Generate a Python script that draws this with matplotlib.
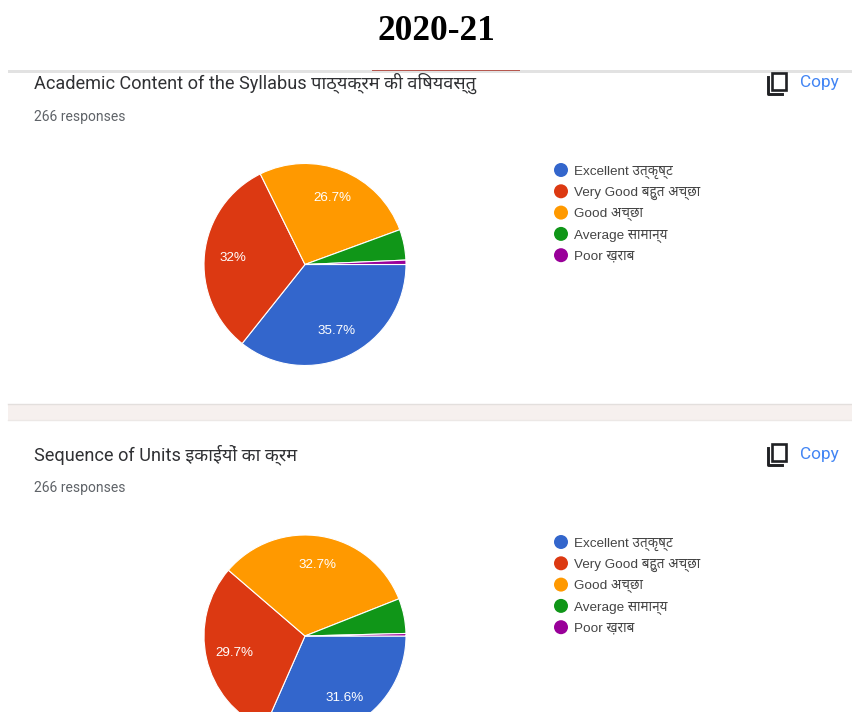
import matplotlib
matplotlib.use('Agg')
import matplotlib.pyplot as plt
from matplotlib.patches import Circle, Rectangle

W, H = 853, 712

# data
heading = '2020-21'
responses = '266 responses'
categories = ['Excellent उत्कृष्ट', 'Very Good बहुत अच्छा', 'Good अच्छा', 'Average सामान्य', 'Poor ख़राब']
colors = ['#3366cc', '#dc3912', '#ff9900', '#109618', '#990099']

title1 = 'Academic Content of the Syllabus पाठ्यक्रम की विषयवस्तु'
values1 = [35.7, 32, 26.7, 4.9, 0.7]

title2 = 'Sequence of Units इकाईयों का क्रम'
values2 = [31.6, 29.7, 32.7, 5.6, 0.4]

ui_font = ['Roboto', 'Noto Sans', 'DejaVu Sans']
legend_font = ['Liberation Sans', 'Noto Sans', 'DejaVu Sans']

fig = plt.figure(figsize=(W / 100, H / 100), dpi=100, facecolor='white')
# whole figure is one axes measured in pixels, y going up
ax = fig.add_axes([0, 0, 1, 1])


def label_pct(p):
    if p < 10:
        return ''
    return '%g%%' % round(p, 1)


def icon(top):
    # the copy icon
    ax.add_patch(Rectangle((772.5, H - top - 17), 14, 17, fill=False, ec='#202124', lw=1.9))
    ax.plot([768.5, 768.5, 782], [H - top - 4, H - top - 21, H - top - 21], color='#202124', lw=2.1)


def panel(title, values, top, legend_top):
    # top = y of the pie centre in pixels from the top of the image
    ax.text(34, H - top + 175.5, title, fontsize=13.05, color='#303134', family=ui_font, va='baseline')
    ax.text(34, H - top + 144, responses, fontsize=10, color='#5f6368', family=ui_font, va='baseline')
    ax.text(800, H - top + 177, 'Copy', fontsize=12.4, color='#4285f4', family=ui_font, va='baseline')
    icon(top - 192)

    wedges, texts, pcts = ax.pie(values, colors=colors, center=(305, H - top), radius=101, startangle=0,
                                 counterclock=False, frame=True, autopct=label_pct, pctdistance=0.72,
                                 wedgeprops={'edgecolor': 'white', 'linewidth': 0.8},
                                 textprops={'color': 'white', 'fontsize': 9.6, 'family': legend_font})
    for t in pcts:
        t.set_y(t.get_position()[1] - 1)

    for i, name in enumerate(categories):
        y = H - legend_top - i * 21.3
        ax.add_patch(Circle((561, y), 7, fc=colors[i], ec='none'))
        ax.text(574, y - 4.5, name, fontsize=9.7, color='#444444', family=legend_font, va='baseline')


# page chrome
ax.text(436.5, H - 32, heading, fontsize=25.5, fontweight='bold', color='black',
        family='Liberation Serif', ha='center', va='center')
ax.add_patch(Rectangle((8, H - 73), W - 8, 3, fc='#e2e2e2', ec='none'))
ax.add_patch(Rectangle((372, H - 71), 148, 1.5, fc='#b5574f', ec='none'))
ax.add_patch(Rectangle((8, H - 420), W - 8, 16, fc='#f6f0ee', ec='none'))
ax.plot([8, W], [H - 404, H - 404], color='#e3dfdd', lw=1)
ax.plot([8, W], [H - 420, H - 420], color='#ece8e6', lw=1)

panel(title1, values1, 264.5, 170)
panel(title2, values2, 636, 542)

ax.set_xlim(0, W)
ax.set_ylim(0, H)
ax.set_aspect('equal')
ax.axis('off')

fig.savefig('out.png', dpi=100)
